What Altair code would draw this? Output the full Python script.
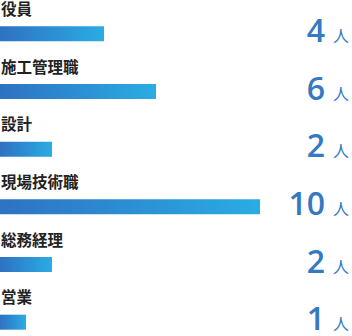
import altair as alt
import pandas as pd

categories = ["役員", "施工管理職", "設計", "現場技術職", "総務経理", "営業"]
counts = [4, 6, 2, 10, 2, 1]
unit = ["人", "人", "人", "人", "人", "人"]

df = pd.DataFrame({"cat": categories, "n": counts, "unit": unit})

y = alt.Y("cat:N", sort=categories, axis=None,
          scale=alt.Scale(range=[5, 351], paddingInner=0, paddingOuter=0))
xs = alt.X("n:Q", axis=None, scale=alt.Scale(domain=[0, 13.538], range=[0, 352], nice=False, zero=True))

grad = alt.Gradient(
    gradient="linear",
    stops=[alt.GradientStop(color="#2e72c2", offset=0),
           alt.GradientStop(color="#2aace3", offset=1)],
    x1=0, x2=1, y1=0, y2=0,
)

base = alt.Chart(df)

bars = base.mark_bar(size=15, color=grad, cornerRadius=0).encode(
    x=xs, y=y
)

labels = base.mark_text(align="left", baseline="middle", dy=-24, dx=1,
                        font="Noto Sans CJK JP", fontSize=15.5, fontWeight="bold",
                        color="#222222").encode(
    x=alt.value(0), y=y, text="cat:N"
)

nums = base.mark_text(align="right", baseline="alphabetic", dy=8,
                      font="Open Sans", fontSize=32, fontWeight=600, color="#3479c2").encode(
    x=alt.value(325), y=y, text="n:Q"
)

units = base.mark_text(align="left", baseline="alphabetic", dy=8,
                       font="Noto Sans CJK JP", fontSize=16, color="#3479c2").encode(
    x=alt.value(333), y=y, text="unit:N"
)

chart = alt.layer(bars, labels, nums, units).properties(
    width=352, height=336, padding=0,
    autosize=alt.AutoSizeParams(type="none"),
).configure_view(stroke=None)

chart.save("out.html", embed_options={"renderer": "svg", "actions": False})
